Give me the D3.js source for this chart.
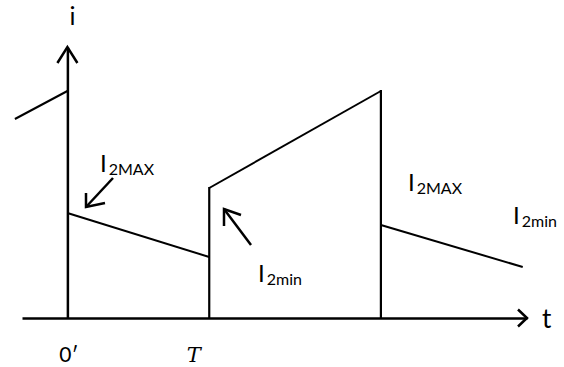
<!DOCTYPE html>
<html>
<head>
<meta charset="utf-8">
<script src="https://cdn.jsdelivr.net/npm/d3@7"></script>
<style>
  body { margin: 0; background: white; }
  svg { display: block; }
</style>
</head>
<body>
<svg id="chart"></svg>
<script>
// time in units of T, current in arbitrary units
const axisT = [-0.32, 3.24]
const axisI = [0, 2.71]

// sloped pieces of the waveform: start/end time, start/end current
const rampT0 = [-0.37, 0, 1, 2.21]
const rampT1 = [0, 1, 2.21, 3.21]
const rampI0 = [1.99, 1.05, 1.30, 0.93]
const rampI1 = [2.27, 0.61, 2.27, 0.51]

// vertical edges rising from the t axis
const edgeT = [1, 2.21]
const edgeI = [1.30, 2.27]

const tickT = [0, 1]
const tickText = ["0\u2032", "T"]

const width = 564, height = 367

var svg = d3.select("#chart")
    .attr("width", width)
    .attr("height", height)
    .style("background-color", "white")

var xScale = d3.scaleLinear()
    .domain(axisT)
    .range([22, 527])

var yScale = d3.scaleLinear()
    .domain(axisI)
    .range([318, 47])

// t axis
var xAxis = svg.append("g")
    .attr("transform", "translate(0," + yScale(0) + ")")
    .call(d3.axisBottom(xScale).tickValues(tickT).tickSize(0).tickSizeOuter(0)
        .tickFormat((d, i) => tickText[i]))

xAxis.select(".domain")
    .attr("stroke", "black")
    .attr("stroke-width", 2.5)

xAxis.selectAll("text")
    .attr("y", 44)
    .attr("dy", 0)
    .attr("fill", "black")
    .each(function (d, i) {
        var t = d3.select(this)
        if (i == 0) {
            t.style("font-family", "Lato").style("font-size", "21px").attr("dx", 1)
        } else {
            t.style("font-family", "DejaVu Serif").style("font-style", "italic").style("font-size", "21px").attr("dx", -16)
        }
    })

// i axis
var yAxis = svg.append("g")
    .attr("transform", "translate(" + xScale(0) + ",0)")
    .call(d3.axisLeft(yScale).tickValues([]).tickSizeOuter(0))

yAxis.select(".domain")
    .attr("stroke", "black")
    .attr("stroke-width", 2.5)

// arrow heads
var xEnd = xScale(axisT[1]), yEnd = yScale(axisI[1])
svg.append("path")
    .attr("d", "M" + (xEnd - 9) + "," + (yScale(0) - 8.5) + "L" + xEnd + "," + yScale(0) + "L" + (xEnd - 9) + "," + (yScale(0) + 8.5))
    .attr("fill", "none")
    .attr("stroke", "black")
    .attr("stroke-width", 2.5)

svg.append("path")
    .attr("d", "M" + (xScale(0) - 10) + "," + (yEnd + 16) + "L" + xScale(0) + "," + yEnd + "L" + (xScale(0) + 10) + "," + (yEnd + 16))
    .attr("fill", "none")
    .attr("stroke", "black")
    .attr("stroke-width", 2.5)

// waveform
svg.selectAll("line.ramp")
    .data(rampT0)
    .join("line")
    .attr("class", "ramp")
    .attr("x1", (d, i) => xScale(rampT0[i]))
    .attr("y1", (d, i) => yScale(rampI0[i]))
    .attr("x2", (d, i) => xScale(rampT1[i]))
    .attr("y2", (d, i) => yScale(rampI1[i]))
    .attr("stroke", "black")
    .attr("stroke-width", 2)

svg.selectAll("line.edge")
    .data(edgeT)
    .join("line")
    .attr("class", "edge")
    .attr("x1", d => xScale(d))
    .attr("y1", yScale(0))
    .attr("x2", d => xScale(d))
    .attr("y2", (d, i) => yScale(edgeI[i]) - 1)
    .attr("stroke", "black")
    .attr("stroke-width", 2.2)

// axis names
svg.append("text")
    .attr("x", xScale(0) + 5)
    .attr("y", 25)
    .attr("text-anchor", "middle")
    .style("font-family", "Lato")
    .style("font-size", "25px")
    .text("i")

svg.append("text")
    .attr("x", 542)
    .attr("y", 328)
    .style("font-family", "Lato")
    .style("font-size", "26px")
    .text("t")

// I labels with subscripts
function subLabel(x, y, sub) {
    var t = svg.append("text")
        .attr("x", x)
        .attr("y", y)
        .style("font-family", "Lato")
        .style("font-size", "24px")
        .attr("fill", "black")
    t.append("tspan").text("I")
    t.append("tspan")
        .attr("dx", 2)
        .attr("dy", 3)
        .style("font-size", "16px")
        .text(sub)
}

subLabel(100, 172, "2MAX")
subLabel(408, 191, "2MAX")
subLabel(258, 282, "2min")
subLabel(513, 224, "2min")

// pointer arrows
function pointer(x0, y0, x1, y1, w1, w2) {
    svg.append("line")
        .attr("x1", x0).attr("y1", y0)
        .attr("x2", x1).attr("y2", y1)
        .attr("stroke", "black")
        .attr("stroke-width", 2.5)
    svg.append("path")
        .attr("d", "M" + w1[0] + "," + w1[1] + "L" + x1 + "," + y1 + "L" + w2[0] + "," + w2[1])
        .attr("fill", "none")
        .attr("stroke", "black")
        .attr("stroke-width", 2.5)
}

pointer(113, 178, 86, 207, [86, 193], [105, 203])
pointer(251, 245, 224, 209, [224, 226], [241, 215])
</script>
</body>
</html>
